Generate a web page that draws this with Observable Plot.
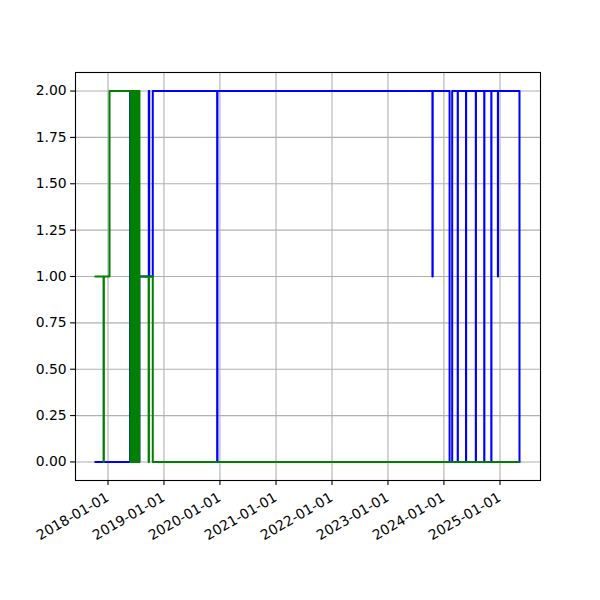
<!DOCTYPE html>
<html><head><meta charset="utf-8">
<script src="https://cdn.jsdelivr.net/npm/d3@7"></script>
<script src="https://cdn.jsdelivr.net/npm/@observablehq/plot@0.6"></script>
<style>body{margin:0;background:#fff}</style>
</head><body><div id="chart"></div>
<script>
// Blue series: step-after (value holds from date until next date)
const blueDates = [
  "2017-10-10","2018-05-25","2018-06-01","2018-06-04","2018-06-09","2018-06-14","2018-06-20",
  "2018-06-25","2018-07-01","2018-07-06","2018-07-12","2018-07-17","2018-07-21","2018-07-25",
  "2018-09-24","2018-09-27","2018-10-20","2019-12-14","2019-12-16","2023-10-18","2023-10-20",
  "2024-02-07","2024-02-24","2024-03-31","2024-04-01","2024-05-24","2024-05-25","2024-07-27",
  "2024-07-28","2024-09-20","2024-09-21","2024-11-05","2024-11-06","2024-12-18","2024-12-19",
  "2025-05-08"
];
const blueValues = [
  0,2,0,2,0,2,0,
  2,0,2,0,2,0,1,
  2,1,2,0,2,1,2,
  0,2,0,2,0,2,0,
  2,0,2,0,2,1,2,
  0
];
// Green series
const greenDates = [
  "2017-10-10","2017-12-03","2017-12-05","2018-01-11","2018-05-28","2018-05-31","2018-06-02",
  "2018-06-05","2018-06-08","2018-06-10","2018-06-13","2018-06-16","2018-06-19","2018-06-21",
  "2018-06-24","2018-06-27","2018-06-30","2018-07-02","2018-07-05","2018-07-08","2018-07-11",
  "2018-07-13","2018-07-16","2018-07-19","2018-07-22","2018-07-23","2018-07-25","2018-09-23",
  "2018-09-25","2018-10-20","2025-05-08"
];
const greenValues = [
  1,0,1,2,0,2,0,
  2,0,2,0,2,0,2,
  0,2,0,2,0,2,0,
  2,0,2,0,2,1,0,
  1,0,0
];
const xTickLabels = ["2018-01-01","2019-01-01","2020-01-01","2021-01-01","2022-01-01","2023-01-01","2024-01-01","2025-01-01"];
const yTicks = [0,0.25,0.5,0.75,1,1.25,1.5,1.75,2];

const parse = d3.utcParse("%Y-%m-%d");
const blue = blueDates.map((d,i)=>({date: parse(d), value: blueValues[i]}));
const green = greenDates.map((d,i)=>({date: parse(d), value: greenValues[i]}));
const xTicks = xTickLabels.map(parse);
const xTickData = xTickLabels.map(s=>({date: parse(s), label: s}));

const chart = Plot.plot({
  width: 600, height: 600,
  marginLeft: 75, marginRight: 60, marginTop: 72, marginBottom: 120,
  style: {fontFamily: "DejaVu Sans", fontSize: "13.9px", background: "white", color: "black"},
  x: {type: "utc", domain: [parse("2017-06-03"), parse("2025-09-22")]},
  y: {domain: [-0.1, 2.1]},
  marks: [
    Plot.gridX(xTicks, {stroke: "#b0b0b0", strokeOpacity: 1, strokeWidth: 1.1}),
    Plot.gridY(yTicks, {stroke: "#b0b0b0", strokeOpacity: 1, strokeWidth: 1.1}),
    Plot.line(blue, {x: "date", y: "value", curve: "step-after", stroke: "blue", strokeWidth: 2}),
    Plot.line(green, {x: "date", y: "value", curve: "step-after", stroke: "green", strokeWidth: 2}),
    Plot.frame({stroke: "black", strokeWidth: 1.1}),
    Plot.axisX(xTicks, {tickSize: 4.9, tickFormat: () => "", label: null, strokeWidth: 1.1}),
    Plot.axisY(yTicks, {tickSize: 4.9, tickPadding: 4, tickFormat: d3.format(".2f"), label: null, strokeWidth: 1.1, fontSize: 13.9}),
    Plot.text(xTickData, {x: "date", text: "label", frameAnchor: "bottom", dy: 11, dx: -3, rotate: -30, textAnchor: "end", lineAnchor: "top", fontSize: 13.9})
  ]
});
document.getElementById("chart").appendChild(chart);
</script>
</body></html>
